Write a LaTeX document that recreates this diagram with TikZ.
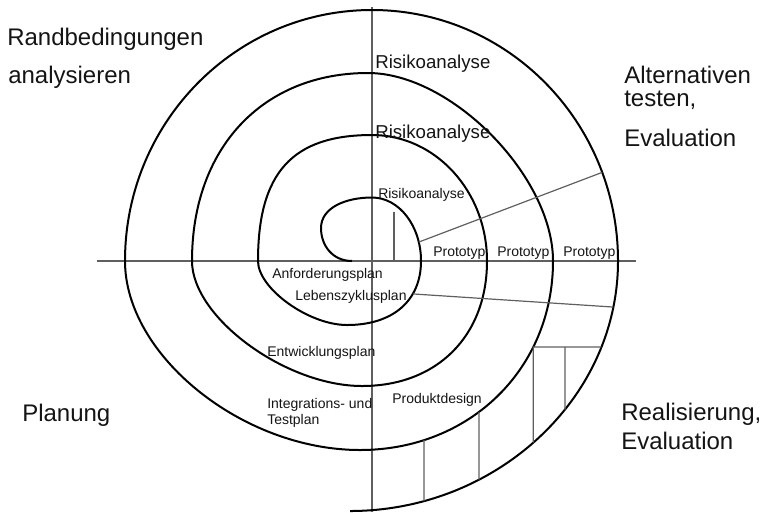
\documentclass[tikz,border=0pt]{standalone}
\usepackage{fontspec}
\setmainfont{Liberation Sans}
\usetikzlibrary{intersections}
\definecolor{guidegray}{RGB}{95,95,95}
\definecolor{txt}{RGB}{20,20,20}
\begin{document}
\begin{tikzpicture}[x=0.75pt,y=-0.75pt,
  spiral/.style={line width=1.5pt, black, line join=round},
  guide/.style={line width=0.9pt, draw=guidegray},
  big/.style={anchor=base west, inner sep=0pt, text=txt, font=\fontsize{18}{21.6}\selectfont},
  mid/.style={anchor=base west, inner sep=0pt, text=txt, font=\fontsize{14}{16.8}\selectfont},
  small/.style={anchor=base west, inner sep=0pt, text=txt, font=\fontsize{10.5}{12.6}\selectfont}]
\useasboundingbox (0,0) rectangle (762,512);
\clip (0,0) rectangle (762,512);

% axes and inner mark
\draw[guide] (97,261) -- (636,261);
\draw[guide] (372,7) -- (372,512);
\draw[guide] (394,212) -- (394,261);

% spiral
\draw[spiral] (352,261) .. controls (333,261) and (321,246) .. (321,228)
 .. controls (321,208) and (345,197.5) .. (372,197.5)
 .. controls (399.1,197.5) and (421,225.9) .. (421,261)
 .. controls (421,300.7) and (392.9,325) .. (347,325)
 .. controls (308.7,325) and (258,288.5) .. (258,261)
 .. controls (258,172.8) and (292.2,135) .. (372,135)
 .. controls (435.5,135) and (487,191.4) .. (487,261)
 .. controls (487,336) and (437,386) .. (362,386)
 .. controls (285.5,386) and (192,317.3) .. (192,261)
 .. controls (192,148.2) and (262.4,73) .. (368,73)
 .. controls (451.3,73) and (553,176.4) .. (553,261)
 .. controls (553,368.7) and (470,450) .. (360,450)
 .. controls (242.5,450) and (125,355.5) .. (125,261)
 .. controls (125,122.4) and (235.6,10) .. (372,10)
 .. controls (507.9,10) and (618,122.4) .. (618,261)
 .. controls (618,399.1) and (495.8,511) .. (350,511);

% invisible copies of spiral quarters for intersections
\path[name path=qAr] (372,197.5) .. controls (399.1,197.5) and (421,225.9) .. (421,261);
\path[name path=q1r] (421,261) .. controls (421,300.7) and (392.9,325) .. (347,325);
\path[name path=q3r] (553,261) .. controls (553,368.7) and (470,450) .. (360,450);
\path[name path=qDr] (372,10) .. controls (507.9,10) and (618,122.4) .. (618,261);
\path[name path=q4r] (618,261) .. controls (618,399.1) and (495.8,511) .. (350,511);

% upper diagonal
\path[name path=diagU] (400,249.2) -- (640,158);
\path[name intersections={of=qAr and diagU, by=dU1}];
\path[name intersections={of=qDr and diagU, by=dU2}];
\draw[guide] (dU1) -- (dU2);

% lower diagonal
\path[name path=diagL] (400,293.1) -- (640,308.8);
\path[name intersections={of=q1r and diagL, by=dL1}];
\path[name intersections={of=q4r and diagL, by=dL2}];
\draw[guide] (dL1) -- (dL2);

% bottom right grid
\path[name path=h347] (515,347) -- (640,347);
\path[name intersections={of=q3r and h347, by=hA}];
\path[name intersections={of=q4r and h347, by=hB}];
\path[name path=vA] (hA) -- ++(0,180);
\path[name intersections={of=q4r and vA, by=hAb}];
\draw[guide] (hAb) -- (hA) -- (hB);
\coordinate (v565t) at (565,347);
\path[name path=v565] (v565t) -- (565,530);
\path[name intersections={of=q4r and v565, by=v565b}];
\draw[guide] (v565t) -- (v565b);
\path[name path=v424] (424,380) -- (424,530);
\path[name intersections={of=q3r and v424, by=v424t}];
\path[name intersections={of=q4r and v424, by=v424b}];
\draw[guide] (v424t) -- (v424b);
\path[name path=v479] (479,380) -- (479,530);
\path[name intersections={of=q3r and v479, by=v479t}];
\path[name intersections={of=q4r and v479, by=v479b}];
\draw[guide] (v479t) -- (v479b);

% big labels
\node[big] (t1) at (7,45) {Randbedingungen};
\node[big] (t2) at (8,83) {analysieren};
\node[big] (t3) at (624,83) {Alternativen};
\node[big] (t4) at (624,106) {testen,};
\node[big] (t5) at (624,146) {Evaluation};
\node[big] (t6) at (22,421) {Planung};
\node[big] (t7) at (621,420) {Realisierung,};
\node[big] (t8) at (621,449) {Evaluation};

% Risikoanalyse
\node[mid] (r1) at (375,68) {Risikoanalyse};
\node[mid] (r2) at (375,138) {Risikoanalyse};
\node[small] (r3) at (378,198) {Risikoanalyse};

% Prototyp
\node[small] (p1) at (433,256.5) {Prototyp};
\node[small] (p2) at (497,256.5) {Prototyp};
\node[small] (p3) at (563,256.5) {Prototyp};

% plans
\node[small] (l1) at (272,278) {Anforderungsplan};
\node[small] (l2) at (295,300) {Lebenszyklusplan};
\node[small] (l3) at (267,356) {Entwicklungsplan};
\node[small] (l4) at (267,408) {Integrations- und};
\node[small] (l5) at (267,424) {Testplan};
\node[small] (l6) at (392,403) {Produktdesign};
\end{tikzpicture}
\end{document}
